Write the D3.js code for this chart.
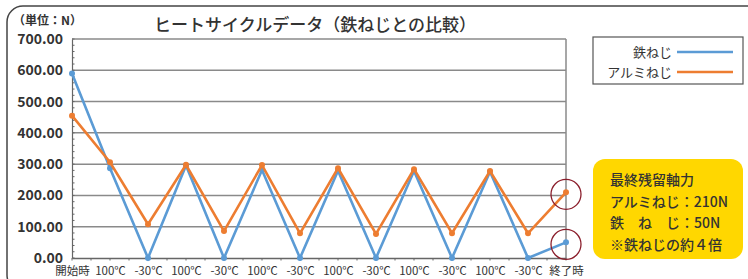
<!DOCTYPE html>
<html>
<head>
<meta charset="utf-8">
<script src="https://cdn.jsdelivr.net/npm/d3@7"></script>
<style>
  body { margin: 0; background: #fff; }
  svg text { font-family: "Noto Sans CJK JP", "Noto Sans", sans-serif; fill: #333; }
</style>
</head>
<body>
<script>
// data
let categories = ['開始時', '100℃', '-30℃', '100℃', '-30℃', '100℃', '-30℃', '100℃', '-30℃', '100℃', '-30℃', '100℃', '-30℃', '終了時']
let ironValues = [590, 287, 0, 296, 0, 281, 0, 279, 0, 278, 0, 276, 0, 50]
let aluValues = [455, 306, 108, 298, 86, 297, 79, 287, 77, 284, 79, 278, 79, 210]
let yTicks = [0, 100, 200, 300, 400, 500, 600, 700]
let seriesNames = ['鉄ねじ', 'アルミねじ']
let seriesColors = ['#5B9BD5', '#ED7D31']
let noteLines = ['最終残留軸力', 'アルミねじ：210N', '鉄　ね　じ：50N', '※鉄ねじの約４倍']

let width = 748, height = 279
let margin = { top: 39, right: 182, bottom: 21, left: 72 }

let svg = d3.select('body').append('svg')
    .attr('width', width)
    .attr('height', height)

// outer frame (runs off the bottom / right edge)
svg.append('rect')
    .attr('x', 7).attr('y', 6)
    .attr('width', 760).attr('height', 285)
    .attr('rx', 16)
    .attr('fill', 'none')
    .attr('stroke', '#444')
    .attr('stroke-width', 1.5)

let x = d3.scalePoint()
    .domain(d3.range(categories.length))
    .range([margin.left, width - margin.right])

let y = d3.scaleLinear()
    .domain([0, 700])
    .range([height - margin.bottom, margin.top])

// gridlines
svg.append('g')
    .selectAll('line')
    .data(yTicks.slice(1))
    .join('line')
    .attr('x1', margin.left).attr('x2', width - margin.right)
    .attr('y1', d => y(d)).attr('y2', d => y(d))
    .attr('stroke', '#8a8a8a')
    .attr('stroke-width', 1.5)

// right border of plot
svg.append('line')
    .attr('x1', width - margin.right).attr('x2', width - margin.right)
    .attr('y1', y(700)).attr('y2', y(0))
    .attr('stroke', '#8a8a8a')
    .attr('stroke-width', 1.5)

// y axis
let yAxis = svg.append('g')
    .attr('transform', `translate(${margin.left},0)`)
    .call(d3.axisLeft(y).tickValues(yTicks).tickSize(0).tickPadding(9).tickFormat(d3.format('.2f')))
yAxis.select('.domain').attr('stroke', '#666').attr('stroke-width', 1.2)
yAxis.selectAll('text')
    .style('font-size', '14px')
    .style('font-weight', 'bold')
    .attr('fill', '#333')

// minor ticks every 20
svg.append('g')
    .selectAll('line')
    .data(d3.range(0, 701, 20))
    .join('line')
    .attr('x1', margin.left).attr('x2', margin.left + 2.5)
    .attr('y1', d => y(d)).attr('y2', d => y(d))
    .attr('stroke', '#666')

// x axis
let xAxis = svg.append('g')
    .attr('transform', `translate(0,${y(0)})`)
    .call(d3.axisBottom(x).tickSize(0).tickPadding(9).tickFormat(i => categories[i]))
xAxis.select('.domain').attr('stroke', '#666').attr('stroke-width', 1.5)
xAxis.selectAll('text')
    .style('font-size', '11.5px')
    .attr('fill', '#222')

// small x ticks (categories and midpoints)
let step = x.step()
svg.append('g')
    .selectAll('line')
    .data(d3.range(0, categories.length - 0.5, 0.5))
    .join('line')
    .attr('x1', d => margin.left + d * step).attr('x2', d => margin.left + d * step)
    .attr('y1', y(0)).attr('y2', y(0) + 2.5)
    .attr('stroke', '#666')

// series
let series = [ironValues, aluValues]
let line = d3.line()
    .x((d, i) => x(i))
    .y(d => y(d))

series.forEach((vals, s) => {
    svg.append('path')
        .datum(vals)
        .attr('d', line)
        .attr('fill', 'none')
        .attr('stroke', seriesColors[s])
        .attr('stroke-width', 2.6)
        .attr('stroke-linejoin', 'miter')
    svg.append('g')
        .selectAll('circle')
        .data(vals)
        .join('circle')
        .attr('cx', (d, i) => x(i))
        .attr('cy', d => y(d))
        .attr('r', 3)
        .attr('fill', seriesColors[s])
})

// highlight circles at the final values
svg.append('g')
    .selectAll('circle')
    .data([aluValues[aluValues.length - 1], ironValues[ironValues.length - 1]])
    .join('circle')
    .attr('cx', x(categories.length - 1))
    .attr('cy', d => y(d) + 2)
    .attr('r', 15)
    .attr('fill', 'none')
    .attr('stroke', '#8B1E2B')
    .attr('stroke-width', 1.3)

// title and unit
svg.append('text')
    .attr('x', 315).attr('y', 31)
    .attr('text-anchor', 'middle')
    .style('font-size', '17px')
    .style('font-weight', '500')
    .text('ヒートサイクルデータ（鉄ねじとの比較）')

svg.append('text')
    .attr('x', 13).attr('y', 25)
    .style('font-size', '12px')
    .style('font-weight', 'bold')
    .text('（単位：N）')

// legend
let legend = svg.append('g')
legend.append('rect')
    .attr('x', 593).attr('y', 37)
    .attr('width', 150).attr('height', 47)
    .attr('fill', '#fff')
    .attr('stroke', '#555')
    .attr('stroke-width', 1.2)
seriesNames.forEach((name, i) => {
    let ly = 52 + i * 20
    legend.append('text')
        .attr('x', 672).attr('y', ly)
        .attr('dy', '0.35em')
        .attr('text-anchor', 'end')
        .style('font-size', '13px')
        .text(name)
    legend.append('line')
        .attr('x1', 677).attr('x2', 733)
        .attr('y1', ly).attr('y2', ly)
        .attr('stroke', seriesColors[i])
        .attr('stroke-width', 2.6)
})

// note box
let note = svg.append('g')
note.append('rect')
    .attr('x', 593).attr('y', 159)
    .attr('width', 150).attr('height', 100)
    .attr('rx', 12)
    .attr('fill', '#FFD700')
note.selectAll('text')
    .data(noteLines)
    .join('text')
    .attr('x', 610)
    .attr('y', (d, i) => 180 + i * 21.7)
    .attr('dy', '0.35em')
    .style('font-size', '14px')
    .style('font-weight', '500')
    .attr('fill', (d, i) => i === 3 ? '#8B1A1A' : '#333')
    .text(d => d)
</script>
</body>
</html>
